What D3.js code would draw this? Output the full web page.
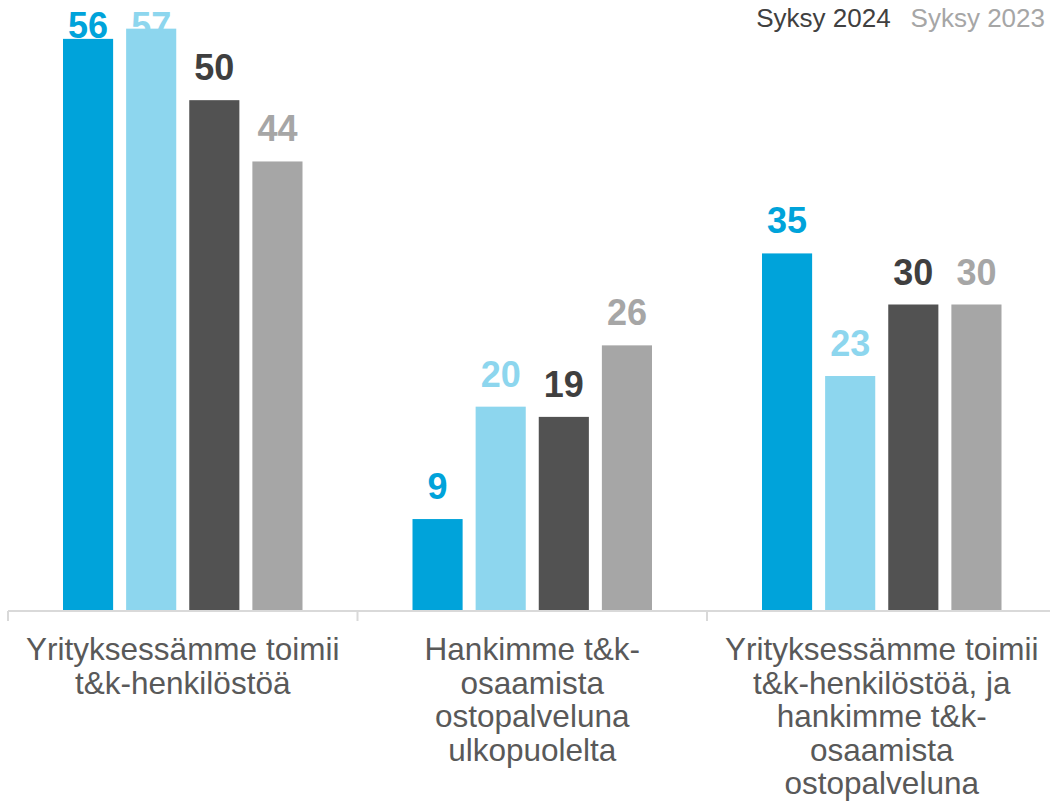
<!DOCTYPE html>
<html>
<head>
<meta charset="utf-8">
<script src="https://cdn.jsdelivr.net/npm/d3@7"></script>
<style>
  body { margin: 0; background: #fff; }
  text { font-family: Arial, "Liberation Sans", sans-serif; }
</style>
</head>
<body>
<div id="chart"></div>
<script>
// Category labels (line breaks as in the original)
const categories = [
    "Yrityksessämme toimii\nt&k-henkilöstöä",
    "Hankimme t&k-\nosaamista\nostopalveluna\nulkopuolelta",
    "Yrityksessämme toimii\nt&k-henkilöstöä, ja\nhankimme t&k-\nosaamista\nostopalveluna"
];
const seriesNames = ["s2024a", "s2023a", "s2024b", "s2023b"];
const s2024a = [56, 9, 35];
const s2023a = [57, 20, 23];
const s2024b = [50, 19, 30];
const s2023b = [44, 26, 30];
const legendLabels = ["Syksy 2024", "Syksy 2023"];

const barColors = {s2024a: "#00a3da", s2023a: "#8dd6ee", s2024b: "#525252", s2023b: "#a6a6a6"};
const labelColors = {s2024a: "#00a3da", s2023a: "#8dd6ee", s2024b: "#3f3f3f", s2023b: "#a6a6a6"};

const width = 1050;
const height = 812;
const baseline = 611;

const seriesValues = {s2024a, s2023a, s2024b, s2023b};
const data = categories.map(function(c, i) {
    return {
        cat: c,
        values: seriesNames.map(function(s) { return {key: s, value: seriesValues[s][i]}; })
    };
});

const svg = d3.select("#chart")
    .append("svg")
    .attr("width", width)
    .attr("height", height);

const x0 = d3.scaleBand()
    .domain(categories)
    .range([8, 1056.5]);

const x1 = d3.scaleBand()
    .domain(seriesNames)
    .range([55, x0.bandwidth() - 55])
    .paddingInner(0.206);

const yScale = d3.scaleLinear()
    .domain([0, 60])
    .range([baseline, baseline - 613]);

const groups = svg.selectAll("g.group")
    .data(data)
    .enter()
    .append("g")
        .attr("class", "group")
        .attr("transform", function(d) { return `translate(${x0(d.cat)},0)`; });

// value labels first, bars cover them where they collide (as in the original)
groups.selectAll("text.value")
    .data(function(d) { return d.values; })
    .enter()
    .append("text")
        .attr("class", "value")
        .attr("x", function(d) { return x1(d.key) + x1.bandwidth() / 2; })
        .attr("y", function(d) { return Math.max(yScale(d.value) - 20, 38); })
        .attr("text-anchor", "middle")
        .style("font-size", "36px")
        .style("font-weight", "bold")
        .style("fill", function(d) { return labelColors[d.key]; })
        .text(function(d) { return d.value; });

groups.selectAll("rect")
    .data(function(d) { return d.values; })
    .enter()
    .append("rect")
        .attr("x", function(d) { return x1(d.key); })
        .attr("y", function(d) { return yScale(d.value); })
        .attr("width", x1.bandwidth())
        .attr("height", function(d) { return baseline - yScale(d.value); })
        .style("fill", function(d) { return barColors[d.key]; });

// category axis
const axis = svg.append("g")
    .attr("transform", `translate(0,${baseline})`);

axis.append("line")
    .attr("x1", x0.range()[0])
    .attr("x2", x0.range()[1])
    .attr("y1", 0)
    .attr("y2", 0)
    .style("stroke", "#d9d9d9")
    .style("stroke-width", 2);

axis.selectAll("line.tick")
    .data(categories.concat([null]))
    .enter()
    .append("line")
        .attr("class", "tick")
        .attr("x1", function(d) { return d === null ? x0.range()[1] : x0(d); })
        .attr("x2", function(d) { return d === null ? x0.range()[1] : x0(d); })
        .attr("y1", 0)
        .attr("y2", 10)
        .style("stroke", "#d9d9d9")
        .style("stroke-width", 2);

const catLabels = axis.selectAll("text.cat")
    .data(categories)
    .enter()
    .append("text")
        .attr("class", "cat")
        .attr("x", function(d) { return x0(d) + x0.bandwidth() / 2; })
        .attr("y", 49)
        .attr("text-anchor", "middle")
        .style("font-size", "31.5px")
        .style("fill", "#595959");

catLabels.selectAll("tspan")
    .data(function(d) { return d.split("\n"); })
    .enter()
    .append("tspan")
        .attr("x", function() { return d3.select(this.parentNode).attr("x"); })
        .attr("dy", function(d, i) { return i === 0 ? 0 : 33.5; })
        .text(function(d) { return d; });

// legend
const legend = svg.append("text")
    .attr("x", 1045)
    .attr("y", 27)
    .attr("text-anchor", "end")
    .style("font-size", "26px");

legend.append("tspan")
    .style("fill", "#404040")
    .text(legendLabels[0]);
legend.append("tspan")
    .attr("dx", 20)
    .style("fill", "#a6a6a6")
    .text(legendLabels[1]);
</script>
</body>
</html>
